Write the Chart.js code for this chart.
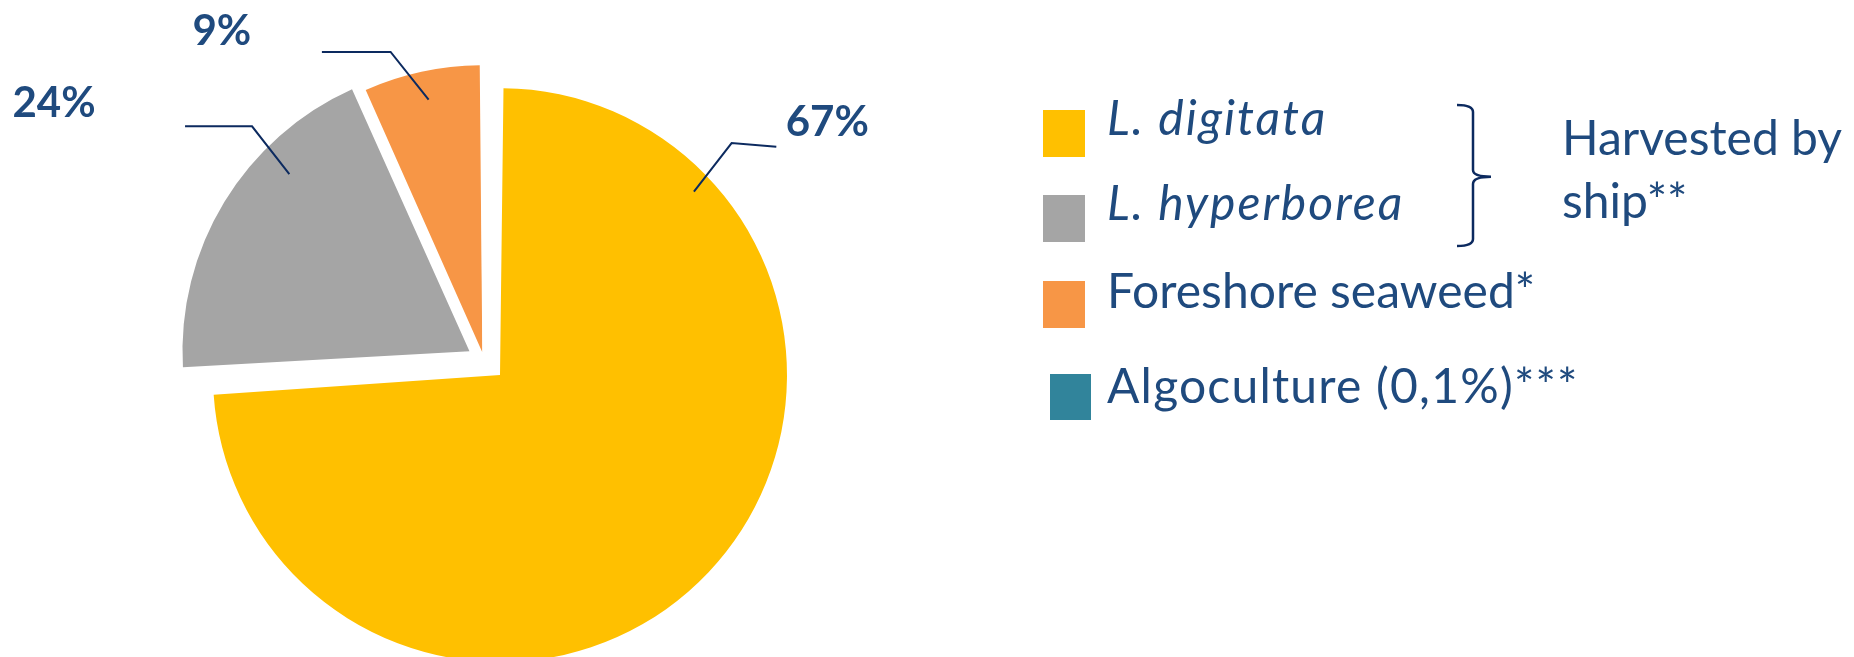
<!DOCTYPE html>
<html>
<head>
<meta charset="utf-8">
<script src="https://cdn.jsdelivr.net/npm/chart.js@4.4.1/dist/chart.umd.min.js"></script>
<style>
  html, body { margin: 0; padding: 0; background: #fff; }
  body { width: 1854px; height: 657px; position: relative; overflow: hidden; }
  #pie { position: absolute; left: 0; top: 0; }
  #legend { position: absolute; left: 0; top: 0; }
</style>
</head>
<body>
<canvas id="pie" width="1854" height="657"></canvas>
<svg id="legend" width="1854" height="657"></svg>
<script>
// data
const categories = ['L. digitata', 'L. hyperborea', 'Foreshore seaweed*', 'Algoculture (0,1%)***'];
const shares = [74.1, 19.2, 6.6, 0.1];
const shareLabels = ['67%', '24%', '9%', ''];
const groupNote = ['Harvested by', 'ship**'];

// styling
const sliceColors = ['#FFC000', '#A5A5A5', '#F79646', '#31849B'];
const italicNames = [true, true, false, false];
const explode = [88, 68, 32, 0];   // chart.js offset units (drawn shift = offset / 4)
const R = 287;
const textBlue = '#1f4a7e';
const lineBlue = '#0c2a5f';

// leader lines, relative to each slice's own corner
const callouts = [
  { angle: 46.6, r: 0.93, elbow: [37.7, -48.7], end: [44.7, 3.7], text: [51, -11] },
  { angle: 314.5, r: 0.88, elbow: [-37.3, -47.8], end: [-67, 0], text: [-131, -9] },
  { angle: 348, r: 0.90, elbow: [-38, -47.6], end: [-68.7, 0], text: [-100, -6.7] }
];

// big slices get their radius grown by the offset in chart.js, undo that
const keepRadius = {
  id: 'keepRadius',
  beforeDatasetsDraw(chart) {
    chart.getDatasetMeta(0).data.forEach(function(arc, i) {
      let shift = (explode[i] || 0) / 4;
      let circ = arc.endAngle - arc.startAngle;
      arc.outerRadius = R - shift * (1 - Math.sin(Math.min(Math.PI, circ)));
    });
  }
};

const calloutPlugin = {
  id: 'callout',
  afterDatasetsDraw(chart) {
    let ctx = chart.ctx;
    ctx.save();
    chart.getDatasetMeta(0).data.forEach(function(arc, i) {
      let c = callouts[i];
      if (!c || !shareLabels[i]) return;
      let mid = (arc.startAngle + arc.endAngle) / 2;
      let shift = explode[i] / 4;
      let cx = arc.x + Math.cos(mid) * shift;
      let cy = arc.y + Math.sin(mid) * shift;
      let a = (c.angle - 90) * Math.PI / 180;
      let x0 = cx + Math.cos(a) * R * c.r, y0 = cy + Math.sin(a) * R * c.r;
      let x1 = x0 + c.elbow[0], y1 = y0 + c.elbow[1];
      let x2 = x1 + c.end[0], y2 = y1 + c.end[1];
      ctx.strokeStyle = lineBlue;
      ctx.lineWidth = 2;
      ctx.beginPath();
      ctx.moveTo(x0, y0);
      ctx.lineTo(x1, y1);
      ctx.lineTo(x2, y2);
      ctx.stroke();
      ctx.fillStyle = textBlue;
      ctx.font = 'bold 42px Lato';
      ctx.textAlign = 'center';
      ctx.textBaseline = 'alphabetic';
      ctx.fillText(shareLabels[i], x2 + c.text[0], y2 + c.text[1]);
    });
    ctx.restore();
  }
};

new Chart(document.getElementById('pie'), {
  type: 'pie',
  data: {
    labels: categories,
    datasets: [{
      data: shares,
      backgroundColor: sliceColors,
      // the 0,1% sliver does not show in the original
      borderColor: '#ffffff',
      borderWidth: [0, 0, 0, 3],
      offset: explode,
      radius: R
    }]
  },
  options: {
    responsive: false,
    animation: false,
    layout: { padding: { left: 0, right: 886, top: 63, bottom: 0 } },
    plugins: {
      legend: { display: false },
      tooltip: { enabled: false }
    }
  },
  plugins: [keepRadius, calloutPlugin]
});

// legend on the right
const svg = document.getElementById('legend');
const ns = 'http://www.w3.org/2000/svg';
const legendRows = [
  { box: [1043, 110, 42, 47], base: 135 },
  { box: [1043, 195, 42, 47], base: 220 },
  { box: [1043, 281, 42, 47], base: 308 },
  { box: [1050, 374, 41, 46], base: 403 }
];
function add(tag, attrs, text) {
  let el = document.createElementNS(ns, tag);
  for (let k in attrs) el.setAttribute(k, attrs[k]);
  if (text) el.textContent = text;
  svg.appendChild(el);
  return el;
}
categories.forEach(function(name, i) {
  let row = legendRows[i];
  add('rect', { x: row.box[0], y: row.box[1], width: row.box[2], height: row.box[3], fill: sliceColors[i] });
  add('text', {
    x: 1107, y: row.base, fill: textBlue,
    'font-family': 'Lato', 'font-size': 48,
    'font-style': italicNames[i] ? 'italic' : 'normal',
    'letter-spacing': italicNames[i] ? 2 : (i === 3 ? 1.2 : 0)
  }, name);
});
add('path', {
  d: 'M1457,105 Q1473,105 1473,112 L1473,170 Q1473,176.7 1491,176.7 Q1473,176.7 1473,184 L1473,239 Q1473,246 1457,246',
  fill: 'none', stroke: lineBlue, 'stroke-width': 2.5
});
groupNote.forEach(function(line, i) {
  add('text', { x: 1562, y: 155 + i * 63, fill: textBlue, 'font-family': 'Lato', 'font-size': 48 }, line);
});
</script>
</body>
</html>
